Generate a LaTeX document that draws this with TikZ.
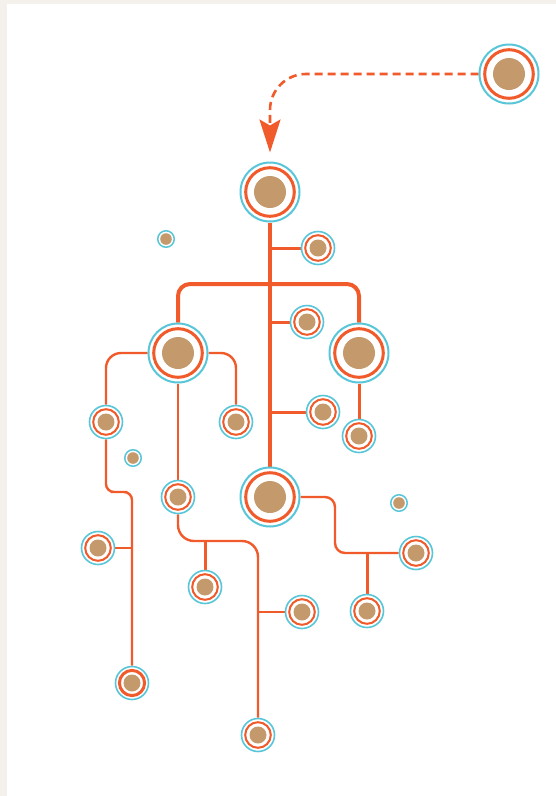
\documentclass[tikz,border=0pt]{standalone}
\usepackage{tikz}
\usetikzlibrary{arrows.meta,backgrounds}
\usepackage{xcolor}
\definecolor{TreeOrange}{HTML}{F15A2B}
\definecolor{TreeCyan}{HTML}{58C6D8}
\definecolor{TreeBrown}{HTML}{C49A6C}
\definecolor{TreePage}{HTML}{F4F1EC}
\tikzset{
  ringed/.style={circle,inner sep=0pt,draw=TreeCyan},
  bignode/.style={ringed,line width=2pt,minimum size=59pt,
    path picture={
      \filldraw[fill=white,draw=TreeOrange,line width=3pt] (path picture bounding box.center) circle (24.3pt);
      \fill[TreeBrown] (path picture bounding box.center) circle (16pt);}},
  midnode/.style={ringed,line width=1.6pt,minimum size=33pt,
    path picture={
      \filldraw[fill=white,draw=TreeOrange,line width=2pt] (path picture bounding box.center) circle (12.8pt);
      \fill[TreeBrown] (path picture bounding box.center) circle (8.5pt);}},
  midbold/.style={ringed,line width=1.6pt,minimum size=33pt,
    path picture={
      \filldraw[fill=white,draw=TreeOrange,line width=3pt] (path picture bounding box.center) circle (12.6pt);
      \fill[TreeBrown] (path picture bounding box.center) circle (8.5pt);}},
  dotnode/.style={ringed,line width=1.5pt,minimum size=16.5pt,
    path picture={\fill[TreeBrown] (path picture bounding box.center) circle (5.8pt);}},
  trunk/.style={draw=TreeOrange,line width=4pt,rounded corners=12pt},
  branch/.style={draw=TreeOrange,line width=3pt},
  link/.style={draw=TreeOrange,line width=2.4pt},
  feedarrow/.style={draw=TreeOrange,line width=2.6pt,dash pattern=on 8pt off 5pt,
    rounded corners=36pt,-{Stealth[length=33pt,width=21pt,inset=6pt]}}
}

\begin{document}
\begin{tikzpicture}[x=1pt,y=-1pt]
  % Page and card.
  \begin{scope}[on background layer]
    \fill[TreePage] (0,0) rectangle (556,796);
    \fill[white] (7,4) rectangle (556,796);
  \end{scope}

  % Feeder and main trunk.
  \node[bignode] (feeder) at (509,74) {};
  \node[bignode] (root) at (270,192) {};
  \node[bignode] (lefthub) at (178,353) {};
  \node[bignode] (righthub) at (359,353) {};
  \node[bignode] (basehub) at (270,497) {};
  \coordinate (bar) at (270,284);
  \coordinate (tip) at ([yshift=9pt]root.north);

  % Leaves off the trunk.
  \node[midnode] (trunkone) at (318,248) {};
  \node[midnode] (trunktwo) at (307,322) {};
  \node[midnode] (trunkthree) at (323,412) {};
  \node[midnode] (rightleaf) at (359,436) {};

  % Left hub and its chains.
  \node[midnode] (leftout) at (106,422) {};
  \node[midnode] (leftin) at (236,422) {};
  \node[midnode] (leftdown) at (178,497) {};
  \node[midnode] (farside) at (98,548) {};
  \node[midbold] (farbottom) at (132,683) {};
  \node[midnode] (lowleft) at (205,587) {};
  \node[midnode] (lowright) at (302,612) {};
  \node[midnode] (lowbottom) at (258,735) {};
  \coordinate (kneeone) at (119,492);
  \coordinate (kneetwo) at (218,541);

  % Base hub chain.
  \node[midnode] (baseright) at (416,553) {};
  \node[midnode] (basedown) at (367,611) {};
  \coordinate (kneethree) at (335,525);

  % Loose dots.
  \node[dotnode] (dotone) at (166,239) {};
  \node[dotnode] (dottwo) at (133,458) {};
  \node[dotnode] (dotthree) at (399,503) {};

  \begin{scope}[on background layer]
    \draw[feedarrow] (feeder.west) -| (tip);
    \draw[trunk] (root) -- (basehub);
    \draw[trunk] (lefthub) |- (bar) -| (righthub);
    \draw[branch] (root |- trunkone) -- (trunkone);
    \draw[branch] (root |- trunktwo) -- (trunktwo);
    \draw[branch] (root |- trunkthree) -- (trunkthree);
    \draw[branch] (righthub) -- (rightleaf);

    \draw[link,rounded corners=15pt] (lefthub) -| (leftout);
    \draw[link,rounded corners=15pt] (lefthub) -| (leftin);
    \draw[link] (lefthub) -- (leftdown);
    \draw[link,rounded corners=8pt] (leftout) |- (kneeone) -| (farbottom);
    \draw[link] (farbottom |- farside) -- (farside);
    \draw[link,rounded corners=16pt] (leftdown) |- (kneetwo) -| (lowbottom);
    \draw[branch] (lowleft |- kneetwo) -- (lowleft);
    \draw[link] (lowbottom |- lowright) -- (lowright);

    \draw[link,rounded corners=10pt] (basehub) -| (kneethree) |- (baseright);
    \draw[branch] (basedown |- baseright) -- (basedown);
  \end{scope}
\end{tikzpicture}
\end{document}
